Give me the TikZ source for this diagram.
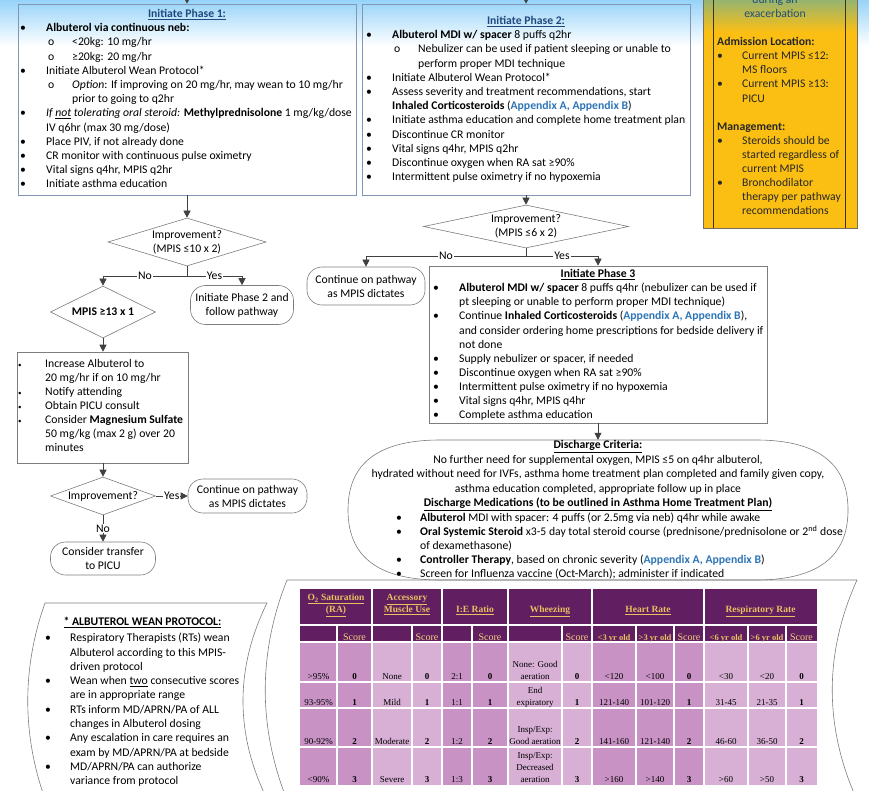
\documentclass[tikz,border=0pt]{standalone}
\usepackage{fontspec}
\setmainfont{Carlito}
\newfontfamily\tabserif{Liberation Serif}
\usetikzlibrary{shapes.geometric,arrows.meta,calc}

\definecolor{skytop}{RGB}{150,211,248}
\definecolor{titleblue}{RGB}{31,73,125}
\definecolor{apxblue}{RGB}{46,117,182}
\definecolor{boxedge}{RGB}{128,150,180}
\definecolor{edgegray}{RGB}{125,125,125}
\definecolor{flowline}{RGB}{64,64,64}
\definecolor{amber}{RGB}{251,191,20}
\definecolor{olivetop}{RGB}{150,180,112}
\definecolor{amberedge}{RGB}{60,50,20}
\definecolor{noteteal}{RGB}{31,78,121}
\definecolor{plum}{RGB}{97,31,97}
\definecolor{headgold}{RGB}{232,192,96}
\definecolor{scoregold}{RGB}{242,208,126}
\definecolor{mauvedark}{RGB}{200,146,197}
\definecolor{mauvelight}{RGB}{216,176,214}

% list helpers: bullet, hanging indent, sub-item
\newcommand{\bul}[1][26pt]{\makebox[#1][l]{•}}
\newcommand{\sbul}{\makebox[27pt][l]{\fontsize{7}{7}\selectfont•}}
\newcommand{\hng}[1][26pt]{\hspace*{#1}}
\newcommand{\subo}{\hspace*{28pt}\makebox[24pt][l]{o}}
\newcommand{\subhng}{\hspace*{52pt}}
\newcommand{\apx}[1]{\textcolor{apxblue}{\textbf{#1}}}
\newcommand{\firstln}{\rule{0pt}{10pt}}
\newcommand{\firstrow}{\rule{0pt}{8pt}}

\begin{document}
\begin{tikzpicture}[x=1pt,y=-1pt,
  bodytext/.style={font=\fontsize{11.7}{14.2}\selectfont, inner sep=0pt, align=left, anchor=north west},
  ctext/.style={font=\fontsize{11.7}{14.2}\selectfont, inner sep=0pt, align=center},
  headline/.style={font=\bfseries\fontsize{11.7}{14}\selectfont, inner sep=0pt, anchor=base},
  phasebox/.style={draw=boxedge, line width=0.6pt, rectangle, inner sep=0pt},
  plainbox/.style={draw=edgegray, line width=0.6pt, rectangle, inner sep=0pt},
  decision/.style={draw=edgegray, line width=0.6pt, diamond, inner sep=0pt, align=center, font=\fontsize{11.7}{14}\selectfont},
  terminal/.style={draw=edgegray, line width=0.6pt, rectangle, rounded corners=15pt, inner sep=0pt, align=center, font=\fontsize{11.7}{14}\selectfont},
  flow/.style={draw=flowline, line width=0.6pt},
  arr/.style={flow, -{Triangle[width=7pt,length=7pt]}},
  lbl/.style={fill=white, inner sep=1pt, font=\fontsize{11.7}{13}\selectfont},
  tcell/.style={font=\tabserif\fontsize{9}{12}\selectfont, inner sep=0pt, align=center, anchor=north},
  thead/.style={font=\tabserif\bfseries\fontsize{9.5}{12}\selectfont, text=headgold, inner sep=0pt, align=center},
  tscore/.style={font=\tabserif\fontsize{10}{12}\selectfont, text=scoregold, inner sep=0pt, anchor=base},
  tage/.style={font=\tabserif\bfseries\fontsize{8.5}{12}\selectfont, text=headgold, inner sep=0pt, anchor=base},
  grid/.style={draw=white, line width=1.2pt}
]
\useasboundingbox (0,0) rectangle (869,791);
\clip (0,0) rectangle (869,791);

% sky-blue band along the top
\shade[top color=skytop, bottom color=white] (0,0) rectangle (869,46);

% ---------- admission / management note (right) ----------
\node[inner sep=0pt, minimum width=154pt, minimum height=228pt] (ybox) at (780,114) {};
\shade[top color=olivetop, bottom color=amber] (703,0) rectangle (857,32);
\fill[amber] (703,32) rectangle (857,228);
\draw[amberedge!70, line width=0.6pt] (703,0) -- (703,228) -- (857,228) -- (857,0);
\draw[amberedge, line width=0.8pt] (713,0) -- (713,228) (845,0) -- (845,228);
\node[ctext, anchor=north, text=noteteal] (ybtop) at (775,-6.5) {\firstln during an\\exacerbation};
\node[bodytext, font=\fontsize{11.7}{14.1}\selectfont, text=black!85] (ybt) at (717,35.5) {\firstln\textbf{Admission Location:}\\
\bul[25pt]Current MPIS ≤12:\\
\hng[25pt]MS floors\\
\bul[25pt]Current MPIS ≥13:\\
\hng[25pt]PICU\\
\mbox{}\\
\textbf{Management:}\\
\bul[25pt]Steroids should be\\
\hng[25pt]started regardless of\\
\hng[25pt]current MPIS\\
\bul[25pt]Bronchodilator\\
\hng[25pt]therapy per pathway\\
\hng[25pt]recommendations};

% ---------- Phase 1 ----------
\node[phasebox, minimum width=338pt, minimum height=191pt] (p1) at (187,99.5) {};
\node[headline, text=titleblue] (p1h) at (187,17.5) {\underline{Initiate Phase 1:}};
\node[bodytext] (p1t) at (20,21.5) {\firstln\bul\textbf{Albuterol via continuous neb:}\\
\subo<20kg: 10 mg/hr\\
\subo≥20kg: 20 mg/hr\\
\bul Initiate Albuterol Wean Protocol*\\
\subo\textit{Option}: If improving on 20 mg/hr, may wean to 10 mg/hr\\
\subhng prior to going to q2hr\\
\bul\textit{If \underline{not} tolerating oral steroid:} \textbf{Methylprednisolone} 1 mg/kg/dose\\
\hng IV q6hr (max 30 mg/dose)\\
\bul Place PIV, if not already done\\
\bul CR monitor with continuous pulse oximetry\\
\bul Vital signs q4hr, MPIS q2hr\\
\bul Initiate asthma education};

% ---------- Phase 2 ----------
\node[phasebox, minimum width=328pt, minimum height=191pt] (p2) at (526,99.5) {};
\node[headline, text=titleblue] (p2h) at (526,24.5) {\underline{Initiate Phase 2:}};
\node[bodytext] (p2t) at (366,28.5) {\firstln\bul\textbf{Albuterol MDI w/ spacer} 8 puffs q2hr\\
\subo Nebulizer can be used if patient sleeping or unable to\\
\subhng perform proper MDI technique\\
\bul Initiate Albuterol Wean Protocol*\\
\bul Assess severity and treatment recommendations, start\\
\hng\textbf{Inhaled Corticosteroids} (\apx{Appendix A, Appendix B})\\
\bul Initiate asthma education and complete home treatment plan\\
\bul Discontinue CR monitor\\
\bul Vital signs q4hr, MPIS q2hr\\
\bul Discontinue oxygen when RA sat ≥90\%\\
\bul Intermittent pulse oximetry if no hypoxemia};

\coordinate (in1) at (187,-12);
\coordinate (in2) at (526,-12);
\draw[arr] (in1) -- (p1.north);
\draw[arr] (in2) -- (p2.north);

% ---------- Phase 1 outcome ----------
\node[decision, aspect=3.3, minimum width=158pt, minimum height=48pt] (d1) at (187,242) {Improvement?\\(MPIS ≤10 x 2)};
\node[terminal, minimum width=103pt, minimum height=39pt] (c1) at (242,305) {Initiate Phase 2 and\\follow pathway};
\node[decision, aspect=2, minimum width=105pt, minimum height=52pt, font=\bfseries\fontsize{11.7}{14}\selectfont] (d4) at (103,312) {MPIS ≥13 x 1};
\coordinate (j1) at (187,276);
\draw[arr] (p1.south) -- (d1.north);
\draw[flow] (d1.south) -- (j1);
\draw[arr] (j1) -| node[lbl, pos=0.25] (no1) {No} (d4.north);
\draw[arr] (j1) -| node[lbl, pos=0.25] (yes1) {Yes} (c1.north);

% ---------- escalation ----------
\node[plainbox, minimum width=171pt, minimum height=111pt] (inc) at (103,407.5) {};
\node[bodytext, font=\fontsize{11.7}{14}\selectfont] (inct) at (18,357.5) {\firstln\sbul Increase Albuterol to\\
\hng[27pt]20 mg/hr if on 10 mg/hr\\
\sbul Notify attending\\
\sbul Obtain PICU consult\\
\sbul Consider \textbf{Magnesium Sulfate}\\
\hng[27pt]50 mg/kg (max 2 g) over 20\\
\hng[27pt]minutes};
\node[decision, aspect=2.76, minimum width=105pt, minimum height=38pt] (d3) at (103,496) {Improvement?};
\node[terminal, minimum width=119pt, minimum height=34pt] (c3) at (247.5,496) {Continue on pathway\\as MPIS dictates};
\node[terminal, minimum width=105pt, minimum height=33pt] (c4) at (103,558.5) {Consider transfer\\to PICU};
\draw[arr] (d4.south) -- (inc.north);
\draw[arr] (inc.south) -- (d3.north);
\draw[arr] (d3.east) -- node[lbl] (yes3) {Yes} (c3.west);
\draw[arr] (d3.south) -- node[lbl] (no3) {No} (c4.north);

% ---------- Phase 2 outcome ----------
\node[decision, aspect=4.77, minimum width=205pt, minimum height=43pt] (d2) at (526,226.5) {Improvement?\\(MPIS ≤6 x 2)};
\node[terminal, minimum width=118pt, minimum height=38pt] (c2) at (366,286) {Continue on pathway\\as MPIS dictates};
\node[plainbox, minimum width=338pt, minimum height=157pt] (p3) at (598,344.5) {};
\node[headline] (p3h) at (598,277.5) {\underline{Initiate Phase 3}};
\node[bodytext, font=\fontsize{11.7}{14.1}\selectfont] (p3t) at (433,281.5) {\firstln\bul\textbf{Albuterol MDI w/ spacer} 8 puffs q4hr (nebulizer can be used if\\
\hng pt sleeping or unable to perform proper MDI technique)\\
\bul Continue \textbf{Inhaled Corticosteroids} (\apx{Appendix A, Appendix B}),\\
\hng and consider ordering home prescriptions for bedside delivery if\\
\hng not done\\
\bul Supply nebulizer or spacer, if needed\\
\bul Discontinue oxygen when RA sat ≥90\%\\
\bul Intermittent pulse oximetry if no hypoxemia\\
\bul Vital signs q4hr, MPIS q4hr\\
\bul Complete asthma education};
\coordinate (j2) at (526,256);
\draw[arr] (p2.south) -- (d2.north);
\draw[flow] (d2.south) -- (j2);
\draw[arr] (j2) -| node[lbl, pos=0.25] (no2) {No} (c2.north);
\draw[arr] (j2) -| node[lbl, pos=0.25] (yes2) {Yes} (p3.north);

% ---------- discharge ----------
\node[inner sep=0pt, minimum width=500pt, minimum height=140pt] (dc) at (598,510) {};
\draw[edgegray, line width=0.6pt] (440,440) -- (756,440)
  .. controls (826,440) and (848,470) .. (848,510)
  .. controls (848,550) and (826,580) .. (756,580) -- (440,580)
  .. controls (370,580) and (348,550) .. (348,510)
  .. controls (348,470) and (370,440) .. (440,440) -- cycle;
\draw[arr] (p3.south) -- (dc.north);
\node[ctext, anchor=north, font=\fontsize{11.7}{14.5}\selectfont] (dct) at (598,438.5) {\firstln\textbf{\underline{Discharge Criteria:}}\\
No further need for supplemental oxygen, MPIS ≤5 on q4hr albuterol,\\
hydrated without need for IVFs, asthma home treatment plan completed and family given copy,\\
asthma education completed, appropriate follow up in place\\
\textbf{\underline{Discharge Medications (to be outlined in Asthma Home Treatment Plan)}}};
\node[bodytext, font=\fontsize{11.7}{13.9}\selectfont] (dcb) at (396,511.5) {\firstln\bul[24pt]\textbf{Albuterol} MDI with spacer: 4 puffs (or 2.5mg via neb) q4hr while awake\\
\bul[24pt]\textbf{Oral Systemic Steroid} x3-5 day total steroid course (prednisone/prednisolone or 2\textsuperscript{nd} dose\\
\hng[24pt]of dexamethasone)\\
\bul[24pt]\textbf{Controller Therapy}, based on chronic severity (\apx{Appendix A, Appendix B})\\
\bul[24pt]Screen for Influenza vaccine (Oct-March); administer if indicated};

% ---------- wean protocol note ----------
\draw[edgegray, line width=0.6pt] (45,603) -- (267,603)
  .. controls (235,668) and (235,734) .. (267,799) -- (45,799)
  .. controls (22,734) and (22,668) .. (45,603) -- cycle;
\node[headline] (wnh) at (142.5,625.5) {\underline{* ALBUTEROL WEAN PROTOCOL:}};
\node[bodytext, font=\fontsize{11.7}{14.3}\selectfont] (wnb) at (45,631.5) {\firstln\bul[25pt]Respiratory Therapists (RTs) wean\\
\hng[25pt]Albuterol according to this MPIS-\\
\hng[25pt]driven protocol\\
\bul[25pt]Wean when \underline{two} consecutive scores\\
\hng[25pt]are in appropriate range\\
\bul[25pt]RTs inform MD/APRN/PA of ALL\\
\hng[25pt]changes in Albuterol dosing\\
\bul[25pt]Any escalation in care requires an\\
\hng[25pt]exam by MD/APRN/PA at bedside\\
\bul[25pt]MD/APRN/PA can authorize\\
\hng[25pt]variance from protocol};

% ---------- MPIS score table ----------
\draw[edgegray, line width=0.6pt] (287,580) -- (857,580)
  .. controls (824,653) and (824,727) .. (857,800) -- (287,800)
  .. controls (258,727) and (258,653) .. (287,580) -- cycle;
\fill[plum] (300,589) rectangle (817,642);
\foreach \a/\b/\c in {300/372/mauvedark, 372/442/mauvelight, 442/508/mauvedark,
                      508/592/mauvelight, 592/704/mauvedark, 704/817/mauvelight}
  \fill[\c] (\a,642) rectangle (\b,785);
\foreach \y in {625,642,682,708,747}
  \draw[grid] (300,\y) -- (817,\y);
\foreach \x in {372,442,508,592,704}
  \draw[grid] (\x,589) -- (\x,785);
\foreach \x in {337,412,472,562,636,674,748,786}
  \draw[grid] (\x,625) -- (\x,785);

\node[thead, anchor=north] (hO) at (336,590.5) {\rule{0pt}{10pt}\underline{O\textsubscript{2} Saturation}\\\underline{(RA)}};
\node[thead, anchor=north] (hA) at (407,590.5) {\rule{0pt}{10pt}\underline{Accessory}\\\underline{Muscle Use}};
\node[thead, anchor=base] (hI) at (475,612.5) {\underline{I:E Ratio}};
\node[thead, anchor=base] (hW) at (550,612.5) {\underline{Wheezing}};
\node[thead, anchor=base] (hH) at (648,612.5) {\underline{Heart Rate}};
\node[thead, anchor=base] (hR) at (760.5,612.5) {\underline{Respiratory Rate}};
\foreach \x [count=\k] in {354.5,427,490,577,689,801.5}
  \node[tscore] (sc\k) at (\x,640.5) {Score};
\node[tage] (ag1) at (614,640.5) {<3 yr old};
\node[tage] (ag2) at (655,640.5) {>3 yr old};
\node[tage] (ag3) at (726,640.5) {<6 yr old};
\node[tage] (ag4) at (767,640.5) {>6 yr old};

\foreach \x/\t [count=\k] in {318.5/{>95\%},354.5/{\textbf{0}},392/{None},427/{\textbf{0}},457/{2:1},490/{\textbf{0}},577/{\textbf{0}},614/{<120},655/{<100},689/{\textbf{0}},726/{<30},767/{<20},801.5/{\textbf{0}}}
  \node[tcell] (ra\k) at (\x,671) {\firstrow\t};
\foreach \x/\t [count=\k] in {318.5/{93-95\%},354.5/{\textbf{1}},392/{Mild},427/{\textbf{1}},457/{1:1},490/{\textbf{1}},577/{\textbf{1}},614/{121-140},655/{101-120},689/{\textbf{1}},726/{31-45},767/{21-35},801.5/{\textbf{1}}}
  \node[tcell] (rb\k) at (\x,697) {\firstrow\t};
\foreach \x/\t [count=\k] in {318.5/{90-92\%},354.5/{\textbf{2}},392/{Moderate},427/{\textbf{2}},457/{1:2},490/{\textbf{2}},577/{\textbf{2}},614/{141-160},655/{121-140},689/{\textbf{2}},726/{46-60},767/{36-50},801.5/{\textbf{2}}}
  \node[tcell] (rc\k) at (\x,736) {\firstrow\t};
\foreach \x/\t [count=\k] in {318.5/{<90\%},354.5/{\textbf{3}},392/{Severe},427/{\textbf{3}},457/{1:3},490/{\textbf{3}},577/{\textbf{3}},614/{>160},655/{>140},689/{\textbf{3}},726/{>60},767/{>50},801.5/{\textbf{3}}}
  \node[tcell] (rd\k) at (\x,774) {\firstrow\t};
\node[tcell] (wz1) at (535,659) {\firstrow None: Good\\aeration};
\node[tcell] (wz2) at (535,685) {\firstrow End\\expiratory};
\node[tcell] (wz3) at (535,724) {\firstrow Insp/Exp:\\Good aeration};
\node[tcell] (wz4) at (535,750) {\firstrow Insp/Exp:\\Decreased\\aeration};
\end{tikzpicture}
\end{document}
